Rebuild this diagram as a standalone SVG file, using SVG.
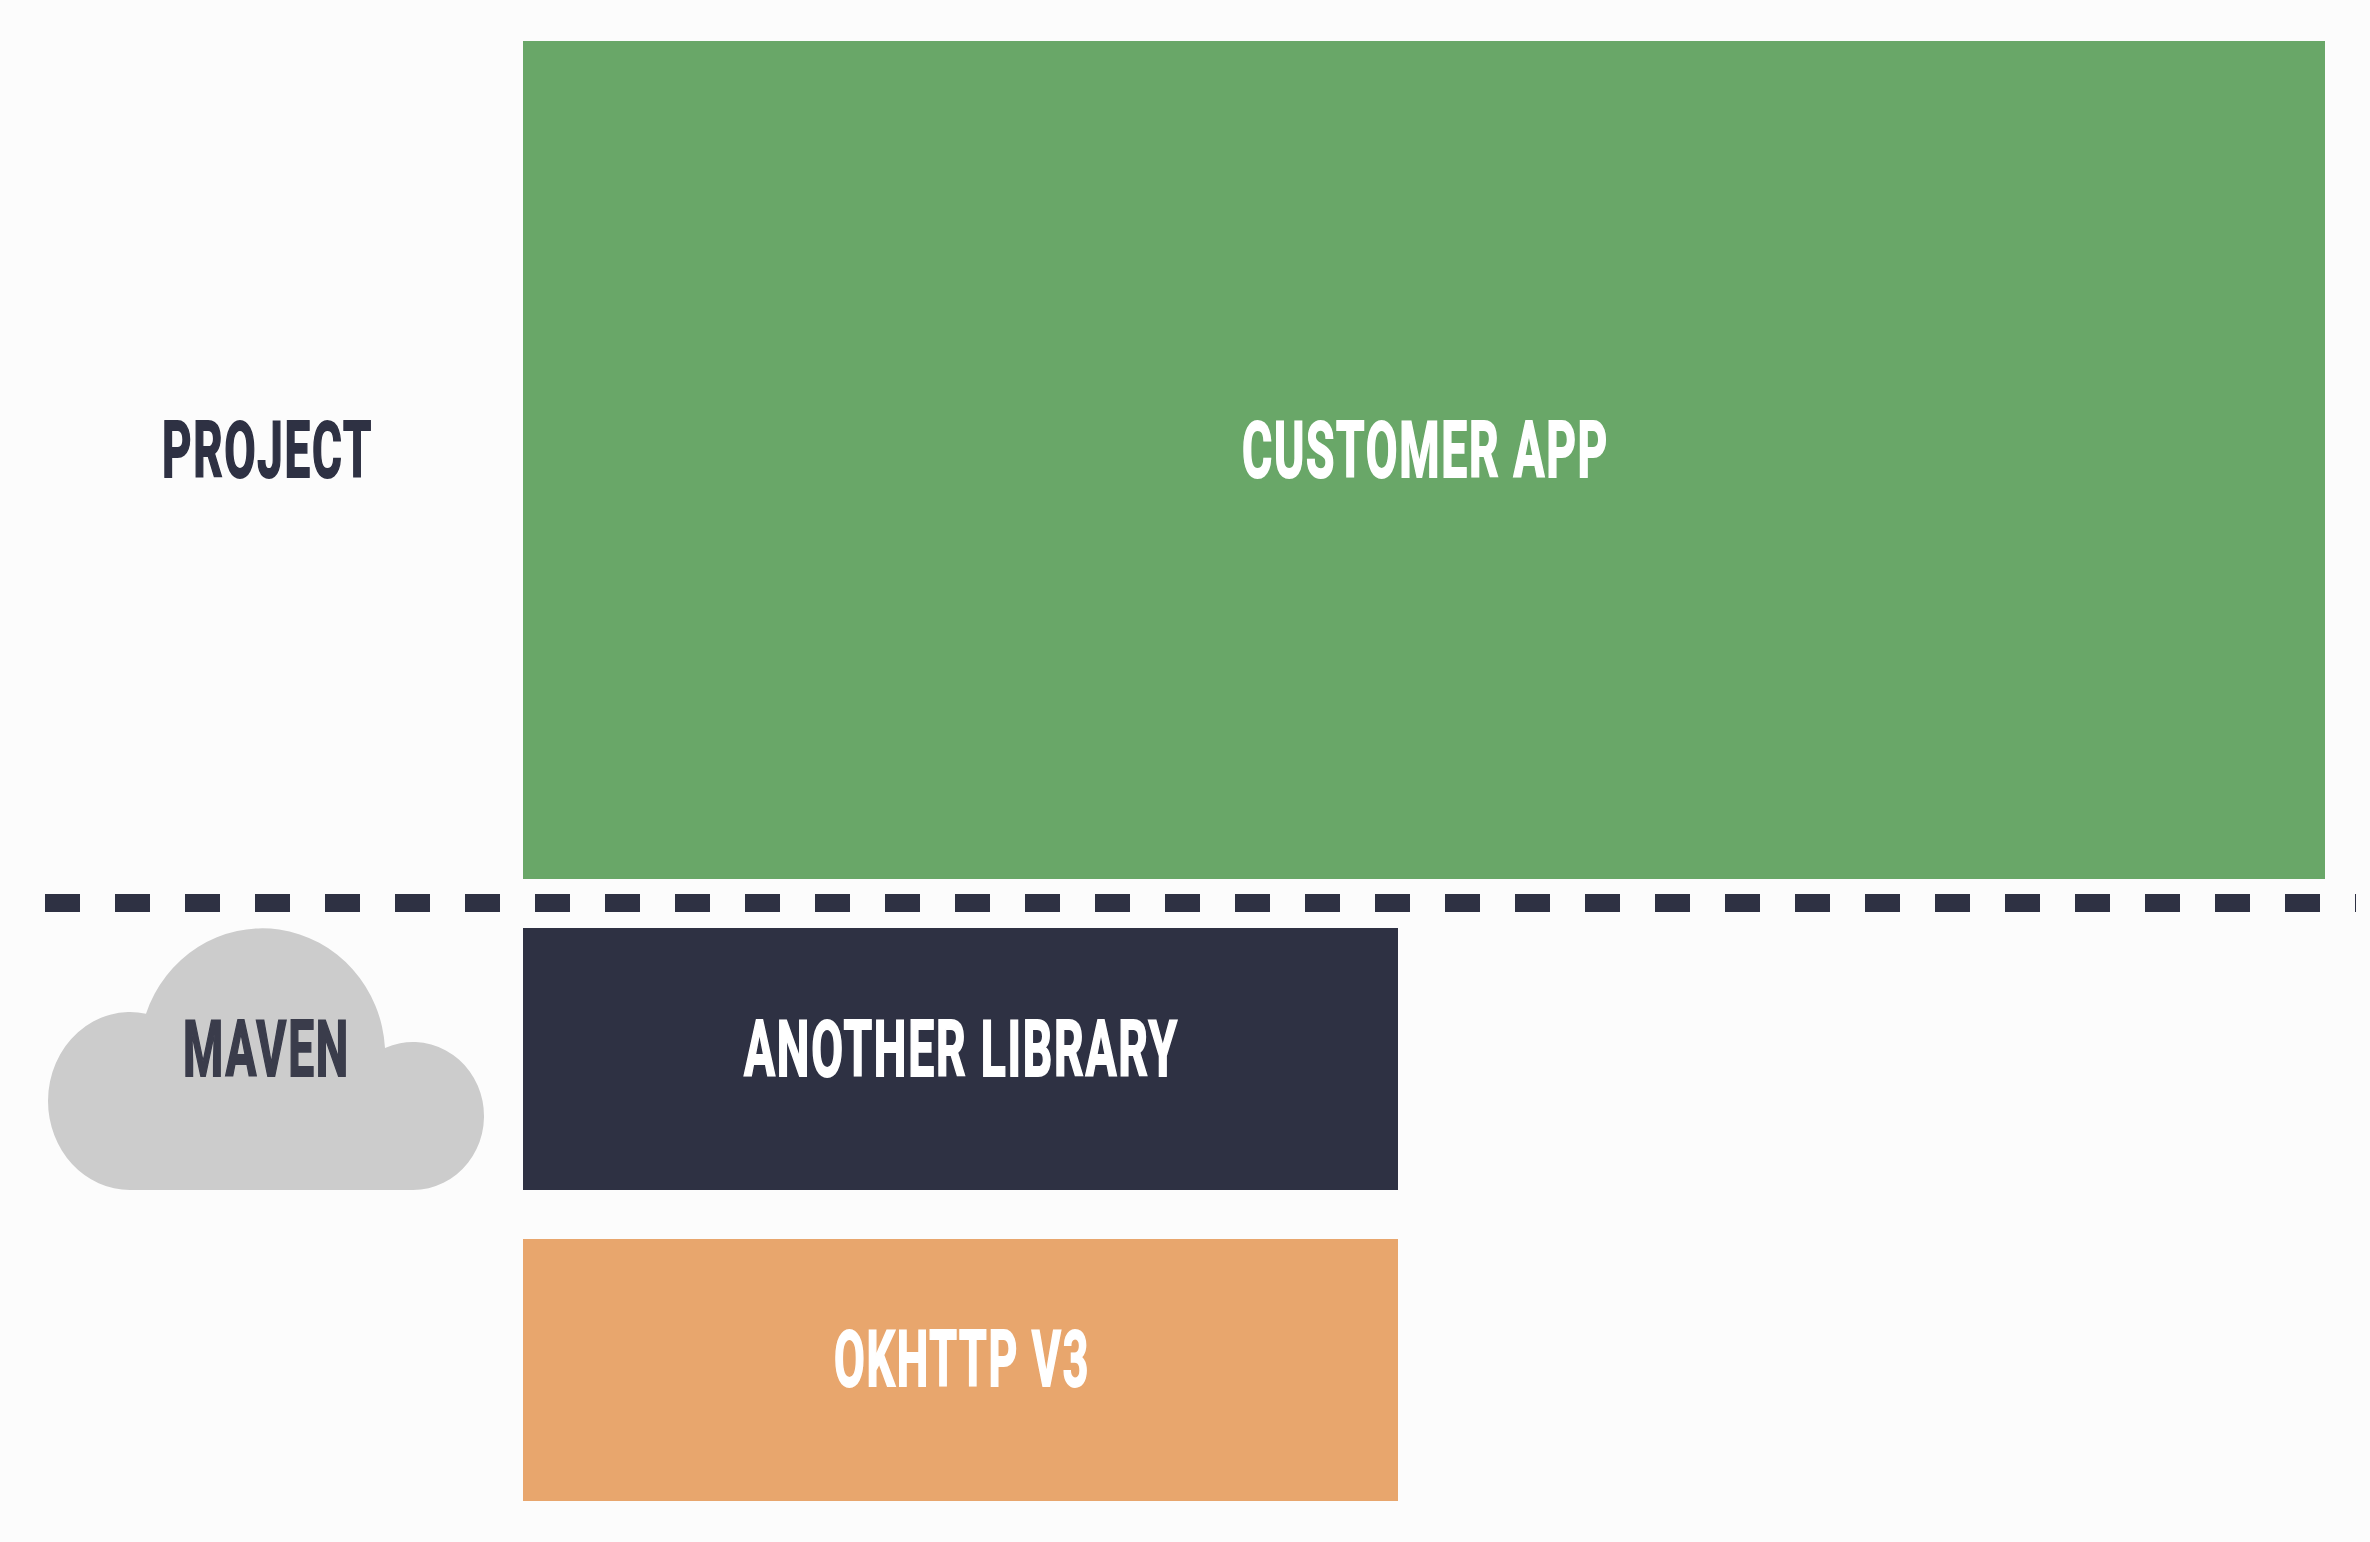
<svg xmlns="http://www.w3.org/2000/svg" width="2370" height="1542" viewBox="0 0 2370 1542">
<style>
.t{font-family:"Liberation Sans Narrow","Roboto","Liberation Sans",sans-serif;font-weight:700;font-size:77px;letter-spacing:3px;stroke-width:2px;paint-order:stroke;text-anchor:start}
.w{fill:#fff;stroke:#fff}
.d{fill:#2e3143;stroke:#2e3143}
.m{fill:#3a3c4b;stroke:#3a3c4b}
</style>
<rect width="2370" height="1542" fill="#fcfcfc"/>
<g id="connectors"><line x1="45" y1="903" x2="2356" y2="903" stroke="#2e3143" stroke-width="18" stroke-dasharray="35 35"/></g>
<g id="project-label"><text class="t d" x="162" y="477" textLength="211" lengthAdjust="spacingAndGlyphs">PROJECT</text></g>
<g id="customer-app"><rect x="523" y="41" width="1802" height="838" fill="#69a768"/><text class="t w" x="1242" y="477" textLength="367" lengthAdjust="spacingAndGlyphs">CUSTOMER APP</text></g>
<g id="maven"><path d="M130 1190A82 89 0 0 1 48 1101A82 89 0 0 1 146 1013.7A123 127 0 0 1 385 1048A71 74 0 1 1 413 1190Z" fill="#cccccc"/><text class="t m" x="183" y="1075.5" textLength="167" lengthAdjust="spacingAndGlyphs">MAVEN</text></g>
<g id="another-library"><rect x="523" y="928" width="875" height="262" fill="#2e3143"/><text class="t w" x="744" y="1075.5" textLength="435" lengthAdjust="spacingAndGlyphs">ANOTHER LIBRARY</text></g>
<g id="okhttp"><rect x="523" y="1239" width="875" height="262" fill="#e8a66d"/><text class="t w" x="834" y="1386" textLength="256" lengthAdjust="spacingAndGlyphs">OKHTTP V3</text></g>
</svg>
